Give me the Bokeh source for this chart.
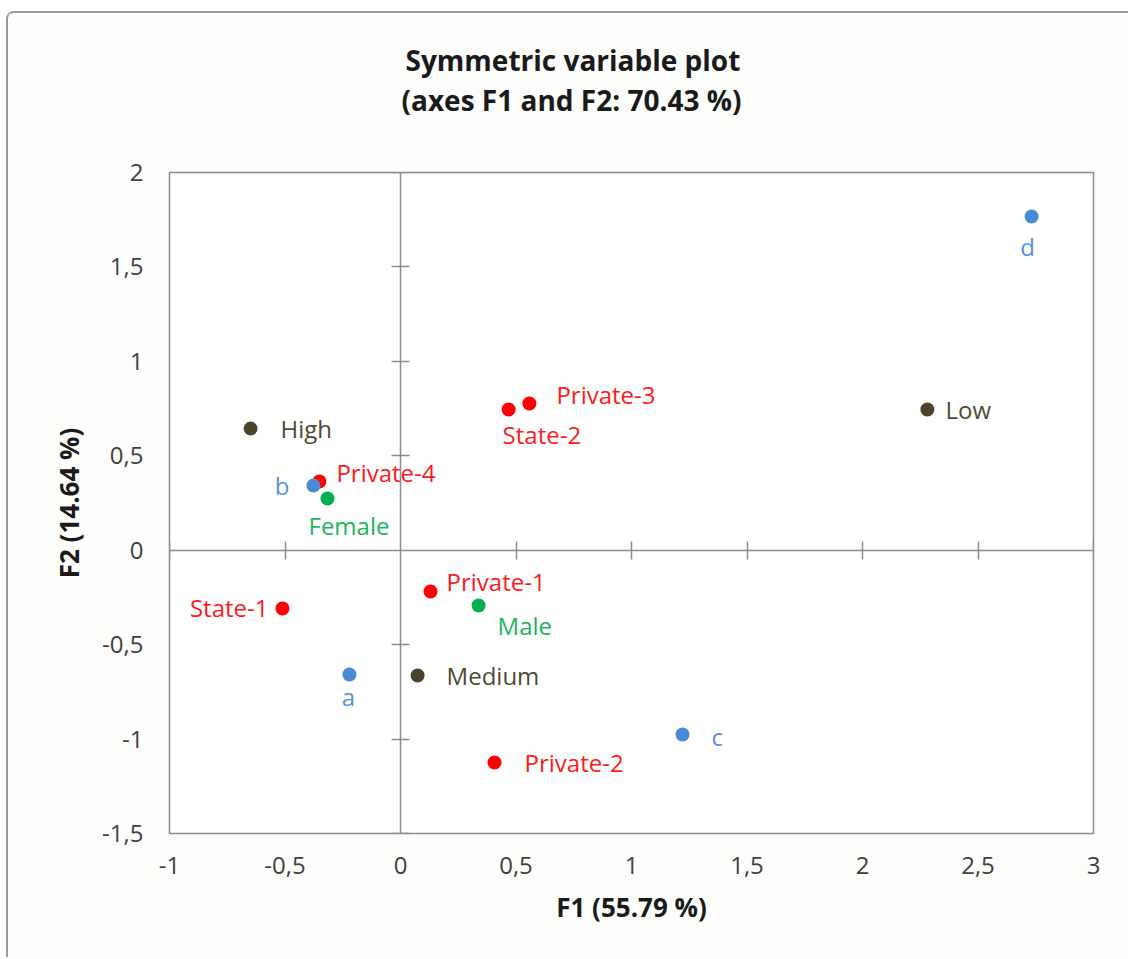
from bokeh.plotting import figure
from bokeh.models import ColumnDataSource, Title, LinearAxis, FixedTicker
from bokeh.core.properties import value
from bokeh.embed import file_html
from bokeh.resources import INLINE

# ---------------- data ----------------
names = ["Private-1", "Private-2", "Private-3", "Private-4", "State-1", "State-2",
         "a", "b", "c", "d",
         "Female", "Male",
         "High", "Low", "Medium"]
groups = ["school"] * 6 + ["letter"] * 4 + ["gender"] * 2 + ["level"] * 3
f1 = [0.130, 0.407, 0.558, -0.351, -0.511, 0.468,
      -0.221, -0.377, 1.221, 2.732,
      -0.316, 0.338,
      -0.649, 2.281, 0.074]
f2 = [-0.219, -1.124, 0.777, 0.364, -0.309, 0.745,
      -0.658, 0.343, -0.976, 1.767,
      0.274, -0.293,
      0.644, 0.745, -0.663]

x_ticks = [-1, -0.5, 0, 0.5, 1, 1.5, 2, 2.5, 3]
y_ticks = [-1.5, -1, -0.5, 0, 0.5, 1, 1.5, 2]

title_lines = ["Symmetric variable plot", "(axes F1 and F2: 70.43 %)"]
x_label = "F1 (55.79 %)"
y_label = "F2 (14.64 %)"

# ---------------- styles ----------------
group_colors = {"school": "#ff0000", "letter": "#4a8bd8", "gender": "#00b050", "level": "#4a442d"}
text_colors = {"school": "#ff1a1a", "letter": "#5592dc", "gender": "#1db45a", "level": "#4f4a36"}
# label placement: (align, dx px, dy px)
label_place = {
    "d": ("center", -4, 30), "Low": ("left", 18, 0), "Private-3": ("left", 27, -9),
    "State-2": ("left", -6, 25), "High": ("left", 30, 0), "Private-4": ("left", 17, -9),
    "b": ("right", -24, 0), "Female": ("left", -19, 27), "State-1": ("right", -14, -1),
    "Private-1": ("left", 16, -10), "Male": ("left", 19, 20), "a": ("center", -1, 22),
    "Medium": ("left", 29, 0), "c": ("left", 29, 2), "Private-2": ("left", 30, 0),
}
FONT = "Open Sans"
GRID = "#8c8c8c"

def fmt(t):
    return ("%g" % t).replace(".", ",")

p = figure(width=1122, height=946, output_backend="svg", toolbar_location=None,
           x_range=(-1, 3), y_range=(-1.5, 2),
           min_border_left=161, min_border_top=159, min_border_right=37, min_border_bottom=126,
           background_fill_color="#ffffff", border_fill_color="#fdfdfc",
           outline_line_color=GRID, outline_line_width=1.5,
           styles={"margin-left": "6px", "margin-top": "11px",
                   "border-top": "2px solid #9a9a9a", "border-left": "2px solid #9a9a9a",
                   "border-top-left-radius": "8px"})
p.grid.visible = False
p.title.visible = False

for ax, ticks in ((p.xaxis[0], x_ticks), (p.yaxis[0], y_ticks)):
    ax.ticker = FixedTicker(ticks=ticks)
    ax.major_label_overrides = {t: fmt(t) for t in ticks}
    ax.axis_line_color = None
    ax.major_tick_line_color = None
    ax.minor_tick_line_color = None
    ax.major_label_text_font = FONT
    ax.major_label_text_font_size = "24px"
    ax.major_label_text_color = "#404040"
    ax.axis_label_text_font = FONT
    ax.axis_label_text_font_style = "bold"
    ax.axis_label_text_font_size = "26px"
    ax.axis_label_text_color = "#1a1a1a"

p.xaxis[0].axis_label = x_label
p.yaxis[0].axis_label = y_label
p.xaxis[0].major_label_standoff = 17
p.yaxis[0].major_label_standoff = 20
p.xaxis[0].axis_label_standoff = 12
p.yaxis[0].axis_label_standoff = 12

# crosshair axes through the origin
def cross_axis(ticks):
    return LinearAxis(fixed_location=0, ticker=FixedTicker(ticks=[t for t in ticks if t != 0]),
                      major_label_overrides={t: "" for t in ticks},
                      axis_line_color=GRID, axis_line_width=1.5,
                      major_tick_line_color=GRID, major_tick_line_width=1.5,
                      major_tick_in=9, major_tick_out=9, minor_tick_line_color=None)
p.add_layout(cross_axis(x_ticks), "below")
p.add_layout(cross_axis(y_ticks), "left")

# points
for g in ["school", "letter", "gender", "level"]:
    idx = [i for i, gg in enumerate(groups) if gg == g]
    src = ColumnDataSource(dict(x=[f1[i] for i in idx], y=[f2[i] for i in idx]))
    p.scatter("x", "y", source=src, size=14, color=group_colors[g], line_color=None)

# labels
for i, n in enumerate(names):
    align, dx, dy = label_place[n]
    p.text(x=[f1[i]], y=[f2[i]], text=[n], x_offset=dx, y_offset=dy,
           text_align=align, text_baseline="middle",
           text_font=value(FONT), text_font_size="24px",
           text_color=text_colors[groups[i]])

# two-line title stacked above the frame (spacer nearest the frame first)
p.add_layout(Title(text=" ", text_font_size="10px", standoff=41), "above")
for line, off in zip(reversed(title_lines), [232, 236]):
    p.add_layout(Title(text=line, align="left", offset=off, standoff=0,
                       text_font=FONT, text_font_style="bold", text_font_size="28px",
                       text_color="#1a1a1a"), "above")

open("out.html", "w").write(file_html(p, INLINE))
